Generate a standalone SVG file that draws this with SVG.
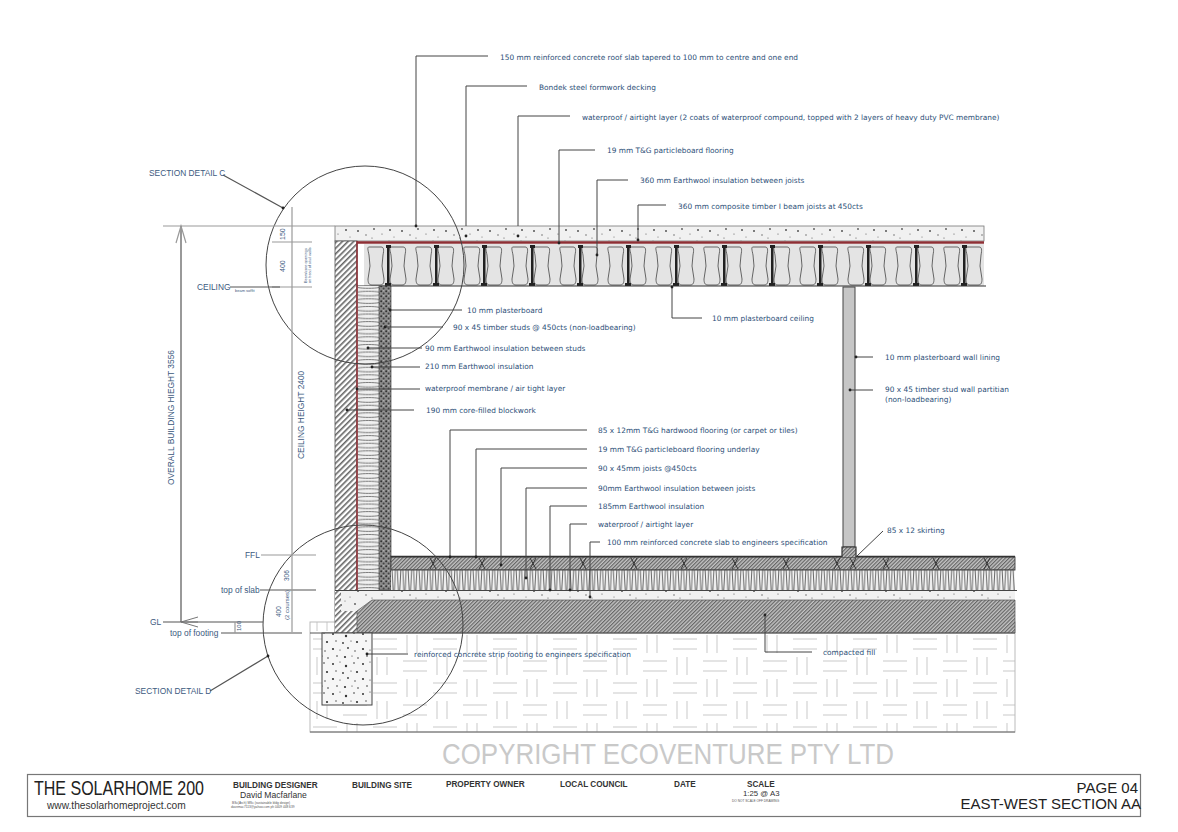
<svg xmlns="http://www.w3.org/2000/svg" width="1178" height="832" viewBox="0 0 1178 832">
<style>
text{font-family:"DejaVu Sans","Liberation Sans",sans-serif;font-size:7.4px;fill:#2d5078}
.a{font-family:"Liberation Sans",Arial,sans-serif}
.lab{font-family:"Liberation Sans",Arial,sans-serif;font-size:8.4px;fill:#3c5a80}
.k{font-family:"Liberation Sans",Arial,sans-serif;fill:#222}
.h{font-family:"Liberation Sans",Arial,sans-serif;font-size:8.2px;font-weight:bold;fill:#333}
.ld{fill:none;stroke:#444;stroke-width:1}
.dim{fill:none;stroke:#999;stroke-width:1.2}
.dk{fill:none;stroke:#555;stroke-width:1.2}
.dot{fill:#222}
.o{fill:none;stroke:#444;stroke-width:1}
</style>
<defs>
<pattern id="hatch" width="4" height="4" patternUnits="userSpaceOnUse" patternTransform="rotate(-45)"><rect width="4" height="4" fill="#fff"/><rect width="4" height="1.6" fill="#666"/></pattern>
<pattern id="fine" width="2.6" height="2.6" patternUnits="userSpaceOnUse" patternTransform="rotate(-45)"><rect width="2.6" height="2.6" fill="#c4c4c4"/><rect width="2.6" height="1.2" fill="#666"/></pattern>
<pattern id="stud" width="5" height="5" patternUnits="userSpaceOnUse"><rect width="5" height="5" fill="#8a8a8a"/><circle cx="1.2" cy="1.2" r="1" fill="#333"/><circle cx="3.6" cy="3.4" r="1" fill="#444"/><circle cx="3.8" cy="0.8" r=".5" fill="#ddd"/></pattern>
<pattern id="speck" width="44" height="30" patternUnits="userSpaceOnUse"><rect width="44" height="30" fill="#f1f1f1"/><g fill="#555"><circle cx="3" cy="4" r=".9"/><circle cx="11" cy="9" r=".6"/><circle cx="18" cy="3" r="1.2"/><circle cx="25" cy="11" r=".7"/><circle cx="33" cy="5" r="1"/><circle cx="40" cy="12" r=".6"/><circle cx="7" cy="14" r=".6"/><circle cx="15" cy="13" r=".5"/><circle cx="29" cy="2" r=".5"/><circle cx="37" cy="1" r=".5"/><circle cx="6" cy="21" r="1"/><circle cx="14" cy="25" r=".7"/><circle cx="22" cy="19" r=".9"/><circle cx="30" cy="24" r=".6"/><circle cx="38" cy="20" r="1"/><circle cx="42" cy="27" r=".5"/><circle cx="20" cy="28" r=".6"/></g></pattern>
<pattern id="foot" width="30" height="30" patternUnits="userSpaceOnUse"><rect width="30" height="30" fill="#f6f6f6"/><g fill="#333"><circle cx="3" cy="4" r="1"/><circle cx="10" cy="2" r=".6"/><circle cx="16" cy="6" r="1.2"/><circle cx="24" cy="3" r=".8"/><circle cx="6" cy="11" r=".7"/><circle cx="13" cy="13" r=".9"/><circle cx="21" cy="11" r=".6"/><circle cx="27" cy="12" r="1.1"/><circle cx="3" cy="19" r="1.1"/><circle cx="10" cy="20" r=".6"/><circle cx="18" cy="18" r=".9"/><circle cx="25" cy="21" r=".7"/><circle cx="7" cy="26" r=".8"/><circle cx="15" cy="27" r="1.1"/><circle cx="22" cy="26" r=".6"/><circle cx="28" cy="28" r=".8"/></g></pattern>
<pattern id="batt" x="364" y="244" width="48" height="43" patternUnits="userSpaceOnUse"><rect width="48" height="43" fill="#e4e4e4"/><g fill="none" stroke="#444" stroke-width=".8"><path d="M5 3h12c3 0 3 3 2 8l-1 11 2 13c0 4-1 6-4 6H8c-3 0-4-2-4-6l2-13-1-11c-1-5-2-8 0-8z"/><path d="M27 3h12c3 0 3 3 2 8l-1 11 2 13c0 4-1 6-4 6H30c-3 0-4-2-4-6l2-13-1-11c-1-5-2-8 0-8z"/></g><path d="M22 1h5v3h-1.5v35H27v4h-6v-4h2V4h-1z" fill="#222"/></pattern>
<pattern id="wallb" x="358" y="286" width="21" height="7.6" patternUnits="userSpaceOnUse"><rect width="21" height="7.6" fill="#f0f0f0"/><path d="M0 1.5c5 1 16 1 21 0M0 6c5-1 16-1 21 0" fill="none" stroke="#555" stroke-width=".8"/></pattern>
<pattern id="floorb" x="391" y="570" width="5.4" height="21" patternUnits="userSpaceOnUse"><rect width="5.4" height="21" fill="#f2f2f2"/><path d="M1 0l1 20M4.4 0l-1 20" fill="none" stroke="#444" stroke-width=".8"/></pattern>
<pattern id="earth" x="310" y="633" width="60" height="44" patternUnits="userSpaceOnUse"><rect width="60" height="44" fill="#fff"/><g stroke="#c9c9c9" stroke-width="1" fill="none"><path d="M3 6h24M3 16h24M33 28h24M33 38h24M37 2v18M47 2v18M7 24v18M17 24v18"/></g></pattern>
<marker id="ah" viewBox="0 0 12 18" refX="6" refY="17" markerWidth="12" markerHeight="18" markerUnits="userSpaceOnUse" orient="auto"><path d="M1 0L6 17L11 0M6 0V17" fill="none" stroke="#777" stroke-width="1"/></marker>
</defs>

<g id="section">
<rect id="earth-fill" x="310" y="622" width="705" height="110" fill="url(#earth)" stroke="#bbb"/>
<path d="M310 732H1015" stroke="#666" fill="none"/>
<rect id="roof-slab" x="335" y="226" width="649" height="15" fill="url(#speck)" stroke="#777" stroke-width=".8"/>
<rect id="blockwork" x="335" y="241" width="22" height="392" fill="url(#hatch)" stroke="#555" stroke-width=".8"/>
<rect id="joists" x="364" y="244" width="620" height="42" fill="url(#batt)"/>
<path d="M357 286H986" stroke="#333" stroke-width="1.2"/>
<path d="M357 242.5H984" stroke="#8e2f35" stroke-width="2.4"/>
<path d="M357 241V590" stroke="#8e2f35" stroke-width="1.6"/>
<rect id="wall-insulation" x="358" y="286" width="21" height="304" fill="url(#wallb)"/>
<rect id="wall-stud" x="379" y="286" width="12" height="304" fill="url(#stud)" stroke="#444" stroke-width=".7"/>
<rect id="floor-joists" x="391" y="557" width="624" height="13" fill="url(#fine)" stroke="#444" stroke-width=".9"/>
<path d="M391 556.5H1015" stroke="#333" stroke-width="1.6"/>
<path d="M430 558l6 11m0-11l-6 11M479 558l6 11m0-11l-6 11M530 558l6 11m0-11l-6 11M580 558l6 11m0-11l-6 11M631 558l6 11m0-11l-6 11M681 558l6 11m0-11l-6 11M732 558l6 11m0-11l-6 11M783 558l6 11m0-11l-6 11M834 558l6 11m0-11l-6 11M850 558l6 11m0-11l-6 11M883 558l6 11m0-11l-6 11M933 558l6 11m0-11l-6 11M984 558l6 11m0-11l-6 11" stroke="#333" stroke-width="1" fill="none"/>
<rect id="floor-insulation" x="391" y="570" width="624" height="20" fill="url(#floorb)"/>
<path d="M391 570H1015" stroke="#444"/>
<rect id="slab-edge" x="335" y="590" width="22" height="43" fill="url(#hatch)"/>
<path id="slab" d="M341 591H1015V600H372L357 611H341Z" fill="url(#speck)"/>
<path id="fill" d="M357 633V611L372 600H1015V633Z" fill="url(#fine)" stroke="#555" stroke-width=".7"/>
<path d="M335 590.5H1017" stroke="#444" stroke-width="1.2"/>
<path d="M310 633H1015" stroke="#555"/>
<rect id="footing" x="322" y="633" width="50" height="72" fill="url(#foot)" stroke="#444"/>
<rect id="partition" x="843" y="287" width="12" height="260" fill="#c6c6c6" stroke="#444"/>
<path id="skirting" d="M842 557V547H856V557" fill="url(#fine)" stroke="#333" stroke-width="1.2"/>
</g>

<g id="circles">
<circle id="detail-c" cx="365" cy="265" r="99" class="o"/>
<circle id="detail-d" cx="363" cy="625" r="100" class="o"/>
<path d="M223 175L283 208M210 691L268 656" class="dk"/>
<circle cx="283" cy="208" r="1.4" class="dot"/><circle cx="268" cy="656" r="1.4" class="dot"/>
</g>

<g id="dimensions">
<path d="M163 226H335M272 242H312M272 287H312M261 555H316" class="dim"/>
<path d="M230 287H280M260 590H316M163 622H263M221 633H302" class="dk"/>
<path d="M181 226V622" class="dk" marker-start="url(#ah)" marker-end="url(#ah)" style="marker-start:none"/>
<path d="M181 245L176 227M181 245L186 227" style="display:none"/>
<path d="M176 243L181 226L186 243" class="dim"/>
<path d="M292 207V632" class="dim"/>
<path d="M235 622V633" class="dim"/>
</g>

<g id="connectors">
<path class="ld" d="M416 226V56H488M466 226V86H527M518 226V116H570M559 243V150H595M597 255V180H628M638 240V205H666M672 287V318H702M390 310H462M385 327H443M368 348H422M372 367H420M357 389H420M347 410H414M450 557V430H587M476 557V449H587M501 565V468H587M526 578V488H587M550 590V506H587M570 590V524H587M590 597V542H600M857 556L883 531M856 357H873M850 390H873M367 654H408M765 615V652H812"/>
<g class="dot"><circle cx="416" cy="226" r="1.4"/><circle cx="466" cy="236" r="1.4"/><circle cx="518" cy="236" r="1.4"/><circle cx="559" cy="243" r="1.4"/><circle cx="597" cy="255" r="1.4"/><circle cx="638" cy="240" r="1.4"/><circle cx="672" cy="287" r="1.4"/><circle cx="390" cy="310" r="1.4"/><circle cx="385" cy="327" r="1.4"/><circle cx="368" cy="348" r="1.4"/><circle cx="372" cy="367" r="1.4"/><circle cx="357" cy="389" r="1.4"/><circle cx="347" cy="410" r="1.4"/><circle cx="450" cy="557" r="1.4"/><circle cx="476" cy="557" r="1.4"/><circle cx="501" cy="565" r="1.4"/><circle cx="526" cy="578" r="1.4"/><circle cx="550" cy="590" r="1.4"/><circle cx="570" cy="590" r="1.4"/><circle cx="590" cy="597" r="1.4"/><circle cx="856" cy="357" r="1.4"/><circle cx="850" cy="390" r="1.4"/><circle cx="367" cy="654" r="1.4"/><circle cx="765" cy="615" r="1.4"/></g>
</g>

<g id="labels">
<text x="500" y="60">150 mm reinforced concrete roof slab tapered to 100 mm to centre and one end</text>
<text x="539" y="90">Bondek steel formwork decking</text>
<text x="582" y="120">waterproof / airtight layer (2 coats of waterproof compound, topped with 2 layers of heavy duty PVC membrane)</text>
<text x="607" y="153">19 mm T&amp;G particleboard flooring</text>
<text x="640" y="183">360 mm Earthwool insulation between joists</text>
<text x="678" y="209">360 mm composite timber I beam joists at 450cts</text>
<text x="712" y="321">10 mm plasterboard ceiling</text>
<text x="467" y="313">10 mm plasterboard</text>
<text x="453" y="330">90 x 45 timber studs @ 450cts (non-loadbearing)</text>
<text x="425" y="351">90 mm Earthwool insulation between studs</text>
<text x="425" y="369">210 mm Earthwool insulation</text>
<text x="425" y="391">waterproof membrane / air tight layer</text>
<text x="426" y="413">190 mm core-filled blockwork</text>
<text x="598" y="433">85 x 12mm T&amp;G hardwood flooring (or carpet or tiles)</text>
<text x="598" y="452">19 mm T&amp;G particleboard flooring underlay</text>
<text x="598" y="471">90 x 45mm joists @450cts</text>
<text x="598" y="491">90mm Earthwool insulation between joists</text>
<text x="598" y="509">185mm Earthwool insulation</text>
<text x="598" y="527">waterproof / airtight layer</text>
<text x="607" y="545">100 mm reinforced concrete slab to engineers specification</text>
<text x="887" y="533">85 x 12 skirting</text>
<text x="885" y="360">10 mm plasterboard wall lining</text>
<text x="885" y="392">90 x 45 timber stud wall partitian</text>
<text x="885" y="402">(non-loadbearing)</text>
<text x="414" y="657">reinforced concrete strip footing to engineers specification</text>
<text x="823" y="655">compacted fill</text>
<text class="lab" x="149" y="176">SECTION DETAIL C</text>
<text class="lab" x="135" y="694">SECTION DETAIL D</text>
<text class="lab" x="197" y="290">CEILING</text>
<text class="lab" x="235" y="292" style="font-size:4px">beam soffit</text>
<text class="lab" x="245" y="558">FFL</text>
<text class="lab" x="221" y="593">top of slab</text>
<text class="lab" x="150" y="625">GL</text>
<text class="lab" x="170" y="636">top of footing</text>
<text class="lab" transform="translate(174,485) rotate(-90)">OVERALL BUILDING HIEGHT 3556</text>
<text class="lab" transform="translate(304,459) rotate(-90)">CEILING HEIGHT 2400</text>
<text class="lab" transform="translate(285,240) rotate(-90)" style="font-size:7px">150</text>
<text class="lab" transform="translate(285,272) rotate(-90)" style="font-size:7px">400</text>
<text class="lab" transform="translate(289,581) rotate(-90)" style="font-size:6.5px">306</text>
<text class="lab" transform="translate(281,617) rotate(-90)" style="font-size:6.5px">400</text>
<text class="lab" transform="translate(289,620) rotate(-90)" style="font-size:6px">(2 courses)</text>
<text class="lab" transform="translate(241,631) rotate(-90)" style="font-size:6px">100</text>
<text class="lab" transform="translate(307,283) rotate(-90)" style="font-size:3.8px">Beam/core openings</text>
<text class="lab" transform="translate(311,283) rotate(-90)" style="font-size:3.8px">on head of stud walls</text>
</g>

<text id="copyright" class="a" x="442" y="764" style="font-size:29.5px;fill:#c9c9c9" textLength="452" lengthAdjust="spacingAndGlyphs">COPYRIGHT ECOVENTURE PTY LTD</text>

<g id="title-block">
<rect x="27.5" y="774.5" width="1113" height="42" fill="#fff" stroke="#777" stroke-width="1.2"/>
<text class="k" x="34" y="795" style="font-size:19.5px" textLength="170" lengthAdjust="spacingAndGlyphs">THE SOLARHOME 200</text>
<text class="k" x="47" y="809" style="font-size:10.2px;fill:#333">www.thesolarhomeproject.com</text>
<text class="h" x="233" y="788">BUILDING DESIGNER</text>
<text class="k" x="240" y="798" style="font-size:8.6px;fill:#333">David Macfarlane</text>
<text class="k" x="232" y="804" style="font-size:3.2px;fill:#555">BSc(Arch) MSc (sustainable bldg design)</text>
<text class="k" x="231" y="808" style="font-size:3.2px;fill:#555">davemac7113@yahoo.com  ph 0409 448 639</text>
<text class="h" x="352" y="788">BUILDING SITE</text>
<text class="h" x="446" y="787">PROPERTY OWNER</text>
<text class="h" x="560" y="787">LOCAL COUNCIL</text>
<text class="h" x="674" y="787">DATE</text>
<text class="h" x="747" y="787">SCALE</text>
<text class="k" x="743" y="796" style="font-size:7.8px;fill:#333">1:25 @ A3</text>
<text class="k" x="732" y="801.5" style="font-size:3.2px;fill:#555">DO NOT SCALE OFF DRAWING</text>
<text class="k" x="1138" y="793" text-anchor="end" style="font-size:15px">PAGE 04</text>
<text class="k" x="1141" y="809" text-anchor="end" style="font-size:15px">EAST-WEST SECTION AA</text>
</g>
</svg>
